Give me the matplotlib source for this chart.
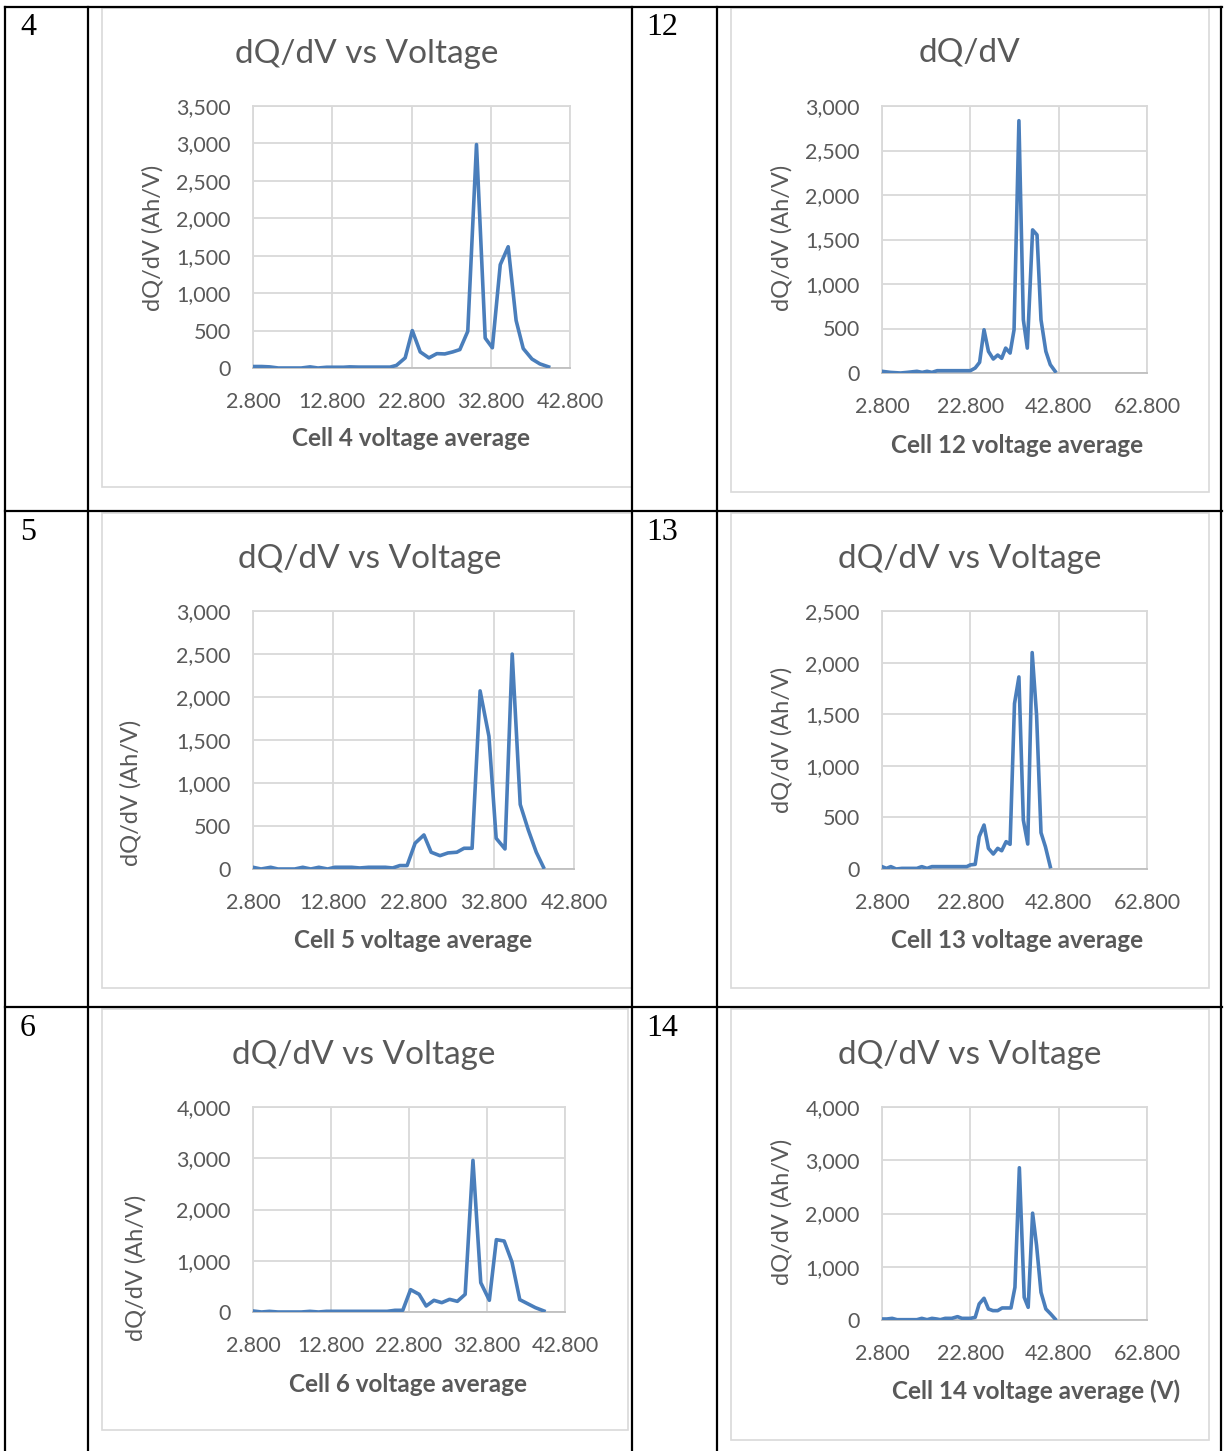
import matplotlib.pyplot as plt
from matplotlib.ticker import FuncFormatter, MultipleLocator
from matplotlib.patches import Rectangle
from matplotlib.lines import Line2D

# Donnees (tension moyenne, dQ/dV)

v4 = [2.8, 3.9, 4.9, 6.0, 7.0, 8.1, 8.9, 10.0, 11.0, 12.1, 13.1, 14.2, 15.0, 16.1, 17.1,
      18.2, 19.2, 20.1, 20.9, 22.0, 22.9, 23.9, 25.0, 26.0, 27.0, 28.0, 28.9, 29.9, 31.0,
      32.1, 33.0, 34.0, 35.0, 36.0, 36.9, 38.0, 39.0, 40.1]
q4 = [20, 20, 15, 0, 0, 0, 0, 15, 0, 10, 10, 10, 15, 12, 12,
      12, 12, 12, 35, 135, 500, 215, 135, 192, 188, 215, 246, 490, 2985,
      400, 270, 1380, 1620, 635, 260, 120, 55, 15]

v12 = [2.8, 4.7, 7.0, 8.5, 10.7, 11.9, 13.0, 14.1, 15.3, 19.0, 22.8, 23.9, 24.9, 25.9,
       26.9, 28.0, 29.0, 29.9, 30.8, 31.8, 32.7, 33.8, 34.8, 35.7, 36.9, 37.9, 38.8,
       39.9, 40.9, 42.0]
q12 = [19, 7, 0, 7, 19, 7, 19, 7, 26, 26, 26, 56, 120, 486,
       243, 157, 202, 165, 280, 224, 486, 2835, 598, 280, 1608, 1552, 598,
       243, 94, 19]

v5 = [2.8, 3.8, 5.0, 5.9, 7.0, 8.0, 9.0, 10.0, 11.0, 12.1, 13.0, 14.1, 15.1, 16.1, 17.2,
      18.2, 19.3, 20.2, 21.1, 22.0, 23.0, 24.1, 25.0, 26.1, 27.1, 28.2, 29.1, 30.1, 31.1,
      32.2, 33.1, 34.2, 35.1, 36.1, 37.1, 38.1, 39.0]
q5 = [20, 0, 20, 0, 0, 0, 20, 0, 20, 0, 20, 20, 20, 12, 20,
      20, 20, 12, 40, 40, 300, 396, 195, 155, 187, 195, 241, 241, 2071,
      1543, 357, 233, 2499, 750, 455, 195, 20]

v13 = [2.8, 3.8, 4.8, 6.0, 7.3, 8.4, 9.6, 10.7, 11.8, 13.0, 14.1, 15.2, 16.3, 17.8, 19.3,
       20.5, 22.0, 22.8, 23.9, 24.8, 25.9, 26.9, 28.0, 29.0, 29.9, 30.9, 31.8, 32.8, 33.8,
       34.8, 35.8, 36.8, 37.8, 38.8, 39.8, 40.9]
q13 = [23, 6, 23, 0, 6, 6, 6, 6, 23, 6, 23, 23, 23, 23, 23,
       23, 23, 40, 45, 313, 426, 200, 145, 200, 177, 265, 239, 1603, 1861,
       474, 242, 2097, 1490, 352, 216, 23]

v6 = [2.8, 3.9, 4.9, 6.0, 7.1, 8.2, 9.0, 10.1, 11.2, 12.2, 13.3, 14.4, 15.4, 16.5, 17.6,
      18.7, 20.0, 21.0, 22.0, 23.0, 24.1, 25.0, 26.0, 27.0, 28.0, 29.0, 30.0, 31.0, 32.0,
      33.1, 34.0, 35.0, 36.0, 37.0, 38.0, 39.0, 40.1]
q6 = [20, 0, 13, 0, 0, 0, 0, 13, 0, 13, 13, 13, 13, 13, 13,
      13, 13, 33, 33, 436, 345, 117, 228, 182, 247, 208, 345, 2959, 572,
      228, 1411, 1385, 976, 241, 163, 85, 20]

v14 = [2.8, 3.9, 5.1, 6.2, 7.7, 9.2, 10.7, 11.8, 13.0, 14.1, 15.2, 16.0, 17.1, 18.6, 19.9,
       20.9, 22.8, 23.9, 24.8, 25.9, 26.9, 27.9, 29.0, 30.0, 31.0, 32.0, 32.9, 33.9, 35.0,
       35.9, 36.9, 37.8, 38.8, 39.9, 41.0, 42.0]
q14 = [19, 19, 31, 6, 6, 6, 6, 31, 6, 31, 19, 6, 31, 31, 63,
       31, 31, 50, 301, 408, 207, 176, 176, 226, 226, 226, 614, 2859, 426,
       238, 2006, 1398, 520, 207, 113, 19]

titres = ["dQ/dV vs Voltage", "dQ/dV", "dQ/dV vs Voltage", "dQ/dV vs Voltage",
          "dQ/dV vs Voltage", "dQ/dV vs Voltage"]
xlabels = ["Cell 4 voltage average", "Cell 12 voltage average", "Cell 5 voltage average",
           "Cell 13 voltage average", "Cell 6 voltage average", "Cell 14 voltage average (V)"]
numeros = ["4", "12", "5", "13", "6", "14"]

# Mise en page (pixels)

W, H = 1228, 1451
GRIS = '#595959'
BLEU = '#4A7EBB'
plt.rcParams['font.family'] = ['Lato', 'DejaVu Sans']

fig = plt.figure(figsize=(W / 100, H / 100), dpi=100)


def fx(x):
    return x / W


def fy(y):
    return 1 - y / H


def trait(x0, y0, x1, y1):
    fig.add_artist(Line2D([fx(x0), fx(x1)], [fy(y0), fy(y1)], color='black', lw=1.6))


# Tableau
for y in [7, 511, 1007]:
    trait(5, y, 1222, y)
for x in [5, 88, 632, 717, 1221]:
    trait(x, 7, x, 1451)

pos_num = [(20, 13), (646, 13), (20, 518), (646, 518), (20, 1014), (646, 1014)]

# boite, zone de trace, xmax, pas x, ymax, pas y, titre, ylabel, xlabel
panneaux = [
    ((102, 8, 632, 487), (253, 106, 570, 368), 42.8, 10, 3500, 500, (367, 54), (153, 238), (411, 439)),
    ((731, 8, 1209, 492), (882, 106, 1147, 373), 62.8, 20, 3000, 500, (969, 53), (782, 238), (1017, 445)),
    ((102, 513, 632, 988), (253, 611, 574, 869), 42.8, 10, 3000, 500, (370, 559), (131, 793), (413, 941)),
    ((731, 513, 1209, 988), (882, 611, 1147, 869), 62.8, 20, 2500, 500, (970, 559), (782, 740), (1017, 941)),
    ((102, 1009, 628, 1430), (253, 1107, 565, 1312), 42.8, 10, 4000, 1000, (364, 1055), (136, 1268), (408, 1384)),
    ((731, 1009, 1209, 1440), (882, 1107, 1147, 1320), 62.8, 20, 4000, 1000, (970, 1055), (782, 1212), (1036, 1391)),
]

series = [(v4, q4), (v12, q12), (v5, q5), (v13, q13), (v6, q6), (v14, q14)]

for i, p in enumerate(panneaux):
    boite, zone, xmax, xpas, ymax, ypas, ptitre, pylab, pxlab = p
    bx0, by0, bx1, by1 = boite
    fig.add_artist(Rectangle((fx(bx0), fy(by1)), (bx1 - bx0) / W, (by1 - by0) / H,
                             fill=False, ec='#D9D9D9', lw=1.2, transform=fig.transFigure))

    x0, y0, x1, y1 = zone
    ax = fig.add_axes([fx(x0), fy(y1), (x1 - x0) / W, (y1 - y0) / H])
    v, q = series[i]
    ax.plot(v, q, color=BLEU, lw=2.6, solid_joinstyle='round', zorder=3)
    ax.set_xlim(2.8, xmax)
    ax.set_ylim(0, ymax)
    ax.xaxis.set_major_locator(MultipleLocator(xpas, offset=2.8))
    ax.yaxis.set_major_locator(MultipleLocator(ypas))
    ax.xaxis.set_major_formatter(FuncFormatter(lambda x, pos: f"{x:.3f}"))
    ax.yaxis.set_major_formatter(FuncFormatter(lambda y, pos: f"{y:,.0f}"))
    ax.grid(True, color='#D9D9D9', lw=1.3)
    ax.set_axisbelow(True)
    for s in ax.spines.values():
        s.set_color('#D9D9D9')
        s.set_linewidth(1.3)
    ax.spines['bottom'].set_color('#BFBFBF')
    ax.tick_params(length=0, labelsize=15.5, labelcolor=GRIS)
    ax.tick_params(axis='y', pad=16)
    ax.tick_params(axis='x', pad=17)

    fig.text(fx(ptitre[0]), fy(ptitre[1]), titres[i], fontsize=24, color=GRIS,
             ha='center', va='center')
    fig.text(fx(pylab[0]), fy(pylab[1]), "dQ/dV (Ah/V)", fontsize=17, color=GRIS,
             ha='center', va='center', rotation=90)
    fig.text(fx(pxlab[0]), fy(pxlab[1]), xlabels[i], fontsize=17.5, color=GRIS,
             fontweight='bold', ha='center', va='center')

    nx, ny = pos_num[i]
    fig.text(fx(nx), fy(ny), numeros[i], fontsize=23, family='Liberation Serif',
             ha='left', va='top')

fig.savefig('out.png', dpi=100, facecolor='white')
